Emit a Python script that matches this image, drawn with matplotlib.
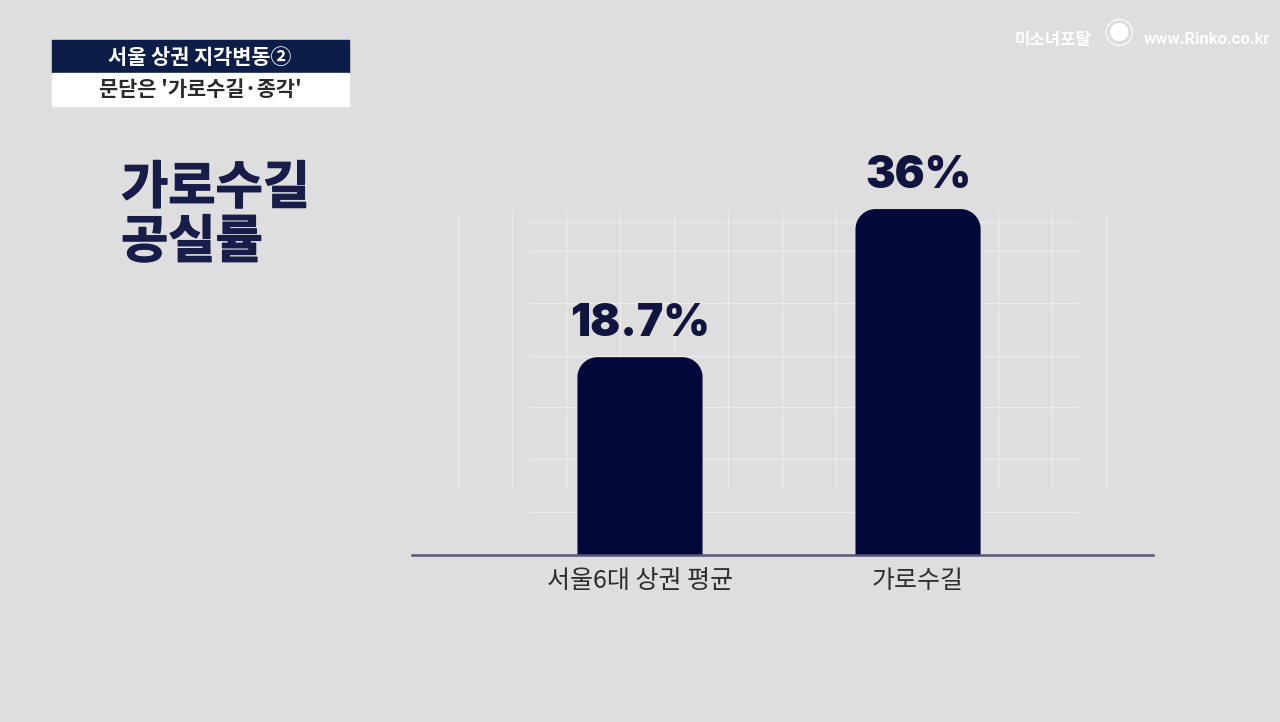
import matplotlib
matplotlib.use("Agg")
import matplotlib.pyplot as plt
import matplotlib.patheffects as pe
from matplotlib.patches import Rectangle, PathPatch
from matplotlib.path import Path

plt.rcParams['font.family'] = ['Noto Sans CJK KR', 'DejaVu Sans']

# data
categories = ["서울6대 상권 평균", "가로수길"]
values = [18.7, 36]
value_labels = ["18.7%", "36%"]

BG = "#dedede"
NAVY = "#03083b"
base = -4.4   # where bars start on the value axis

fig = plt.figure(figsize=(12.8, 7.22), dpi=100, facecolor=BG)

# overlay in pixel coords for decorations
deco = fig.add_axes([0, 0, 1, 1])
deco.set_xlim(0, 1280)
deco.set_ylim(722, 0)
deco.axis("off")
deco.set_facecolor(BG)

# faint background grid
for gx in range(458, 1115, 54):
    deco.plot([gx, gx], [212, 488], color="white", lw=1, alpha=0.4, zorder=1)
for gy in [222, 251, 303, 356, 407, 459, 512]:
    deco.plot([530, 1078], [gy, gy], color="white", lw=1, alpha=0.4, zorder=1)

# header box
deco.add_patch(Rectangle((52, 40), 297, 33, color="#0c1d47", zorder=2))
deco.add_patch(Rectangle((52, 73), 297, 33, color="white", zorder=2))
deco.text(200, 57, "서울 상권 지각변동②", color="white", fontsize=15,
          fontweight="bold", ha="center", va="center", zorder=3)
deco.text(200, 90, "문닫은 '가로수길·종각'", color="#2a2a2a", fontsize=15,
          fontweight="bold", ha="center", va="center", zorder=3)

# big title (thin stroke makes it look a bit heavier)
thick = [pe.withStroke(linewidth=0.9, foreground="#181c48")]
deco.text(121, 188, "가로수길", color="#181c48", fontsize=37, fontweight="heavy",
          ha="left", va="center", path_effects=thick)
deco.text(121, 242, "공실률", color="#181c48", fontsize=37, fontweight="heavy",
          ha="left", va="center", path_effects=thick)

# watermark
deco.text(1015, 40, "미소녀포탈", color="white", fontsize=12, fontweight="bold",
          ha="left", va="center")
deco.text(1119, 36, "◉", color="white", fontsize=22, ha="center", va="center")
deco.text(1270, 40, "www.Rinko.co.kr", color="white", fontsize=12, fontweight="bold",
          ha="right", va="center", family=["Roboto", "DejaVu Sans"])

# chart axes
ax = fig.add_axes([412 / 1280, (722 - 555) / 722, 741 / 1280, 405 / 722])
ax.patch.set_alpha(0)
x = list(range(len(values)))
heights = [v - base for v in values]
bars = ax.bar(x, heights, bottom=base, width=0.45, color=NAVY)
ax.set_xlim(-0.82, 1.845)
ax.set_ylim(base, base + 47.3)

# swap each plain bar for one path with rounded top corners
fig.canvas.draw()
p0 = ax.transData.transform((0, 0))
p1 = ax.transData.transform((1, 1))
rx = 20 / (p1[0] - p0[0])
ry = 20 / (p1[1] - p0[1])
k = 0.5523
for b in bars:
    b.set_visible(False)
    x0, y0 = b.get_x(), b.get_y()
    x1, y1 = x0 + b.get_width(), y0 + b.get_height()
    verts = [(x0, y0), (x0, y1 - ry),
             (x0, y1 - ry + k * ry), (x0 + rx - k * rx, y1), (x0 + rx, y1),
             (x1 - rx, y1),
             (x1 - rx + k * rx, y1), (x1, y1 - ry + k * ry), (x1, y1 - ry),
             (x1, y0), (x0, y0)]
    codes = [Path.MOVETO, Path.LINETO,
             Path.CURVE4, Path.CURVE4, Path.CURVE4,
             Path.LINETO,
             Path.CURVE4, Path.CURVE4, Path.CURVE4,
             Path.LINETO, Path.CLOSEPOLY]
    ax.add_patch(PathPatch(Path(verts, codes), facecolor=NAVY, lw=0))

for xi, v, lab in zip(x, values, value_labels):
    ax.annotate(lab, (xi, v), xytext=(0, 9), textcoords="offset points",
                ha="center", va="bottom", fontsize=32, fontweight="black",
                color="#10143f", family=["Inter", "DejaVu Sans"])

for s in ["top", "right", "left"]:
    ax.spines[s].set_visible(False)
ax.spines["bottom"].set_color("#55557a")
ax.spines["bottom"].set_linewidth(1.8)
ax.set_yticks([])
ax.set_xticks(x)
ax.set_xticklabels(categories, fontsize=18, color="#2e2e2e")
ax.tick_params(axis="x", length=0, pad=9)

fig.savefig("out.png", dpi=100, facecolor=BG)
